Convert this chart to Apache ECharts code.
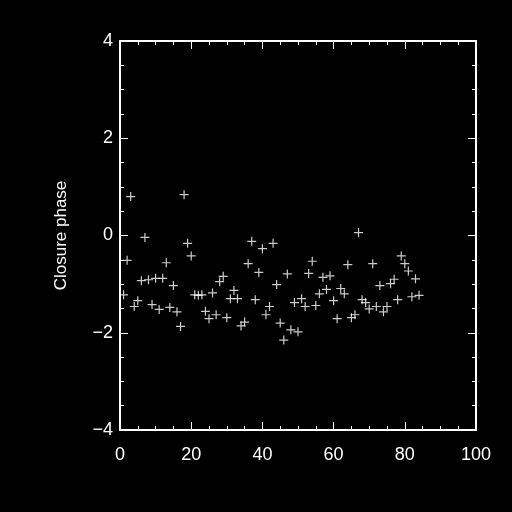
<!DOCTYPE html>
<html><head><meta charset="utf-8">
<script src="https://cdn.jsdelivr.net/npm/echarts@6/dist/echarts.min.js"></script>
<style>html,body{margin:0;padding:0;background:#000}#c{width:512px;height:512px}</style>
</head><body><div id="c"></div>
<script>
var closurePhase = [
 -1.22,-0.51,0.80,-1.46,-1.34,-0.93,-0.04,-0.91,-1.42,-0.88,
 -1.52,-0.88,-0.56,-1.48,-1.03,-1.57,-1.87,0.84,-0.16,-0.42,
 -1.22,-1.23,-1.22,-1.56,-1.71,-1.18,-1.63,-0.95,-0.84,-1.69,
 -1.30,-1.13,-1.30,-1.86,-1.78,-0.58,-0.12,-1.32,-0.76,-0.27,
 -1.63,-1.46,-0.16,-1.01,-1.80,-2.15,-0.79,-1.94,-1.38,-1.98,
 -1.30,-1.46,-0.78,-0.53,-1.44,-1.20,-0.86,-1.11,-0.83,-1.34,
 -1.71,-1.09,-1.20,-0.60,-1.69,-1.63,0.06,-1.32,-1.38,-1.51,
 -0.58,-1.46,-1.03,-1.57,-1.46,-0.99,-0.90,-1.32,-0.42,-0.58,
 -0.73,-1.26,-0.89,-1.23
];
var xTicks = [0,20,40,60,80,100];
var yTicks = [-4,-2,0,2,4];
var yTitle = 'Closure phase';

var pts = closurePhase.map(function(v,i){return [i+1, v];});
var chart = echarts.init(document.getElementById('c'));
var lab = {color:'#fff', fontFamily:'Liberation Sans', fontSize:18};
function fmt(v){return String(v).replace('-', '\u2212');}
var tick = {show:true, inside:true, length:8, lineStyle:{color:'#fff',width:1}};
var minor = {show:true, splitNumber:4, length:4, lineStyle:{color:'#fff',width:1}};
var line = {show:true, onZero:false, lineStyle:{color:'#fff',width:2}};
chart.setOption({
  backgroundColor:'#000',
  animation:false,
  grid:{left:120, right:36, top:41, bottom:82},
  xAxis:[
    {type:'value', min:xTicks[0], max:xTicks[xTicks.length-1], interval:20, position:'bottom',
     axisLine:line, axisTick:tick, minorTick:minor, splitLine:{show:false},
     axisLabel:Object.assign({margin:16, formatter:fmt}, lab)},
    {type:'value', min:0, max:100, interval:20, position:'top',
     axisLine:line, axisTick:tick, minorTick:minor, splitLine:{show:false},
     axisLabel:{show:false}}
  ],
  yAxis:[
    {type:'value', min:yTicks[0], max:yTicks[yTicks.length-1], interval:2, position:'left',
     axisLine:line, axisTick:tick, minorTick:minor, splitLine:{show:false},
     axisLabel:Object.assign({margin:7, formatter:fmt}, lab),
     name:yTitle, nameLocation:'middle', nameGap:50,
     nameTextStyle:{color:'#fff', fontFamily:'Liberation Sans', fontSize:17}},
    {type:'value', min:-4, max:4, interval:2, position:'right',
     axisLine:line, axisTick:tick, minorTick:minor, splitLine:{show:false},
     axisLabel:{show:false}}
  ],
  series:[{
    type:'scatter', data:pts,
    symbol:'path://M0,4.5L9,4.5M4.5,0L4.5,9', symbolSize:9,
    itemStyle:{color:'rgba(0,0,0,0)', borderColor:'#fff', borderWidth:1.2}
  }]
});
</script></body></html>
